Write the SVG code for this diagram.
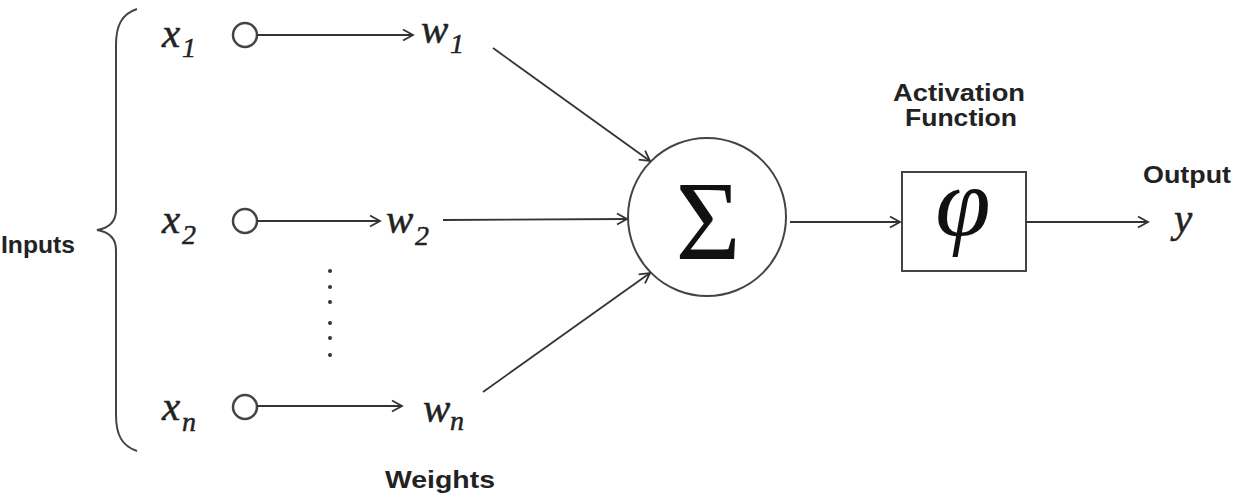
<svg xmlns="http://www.w3.org/2000/svg" width="1236" height="498" viewBox="0 0 1236 498">
<defs>
<marker id="arr" markerWidth="14" markerHeight="14" refX="11" refY="7" orient="auto" markerUnits="userSpaceOnUse">
<path d="M1,1.5 L11,7 L1,12.5" fill="none" stroke="#333" stroke-width="1.8"/>
</marker>
<style>
.lbl{font-family:"Liberation Sans",Arial,sans-serif;font-weight:bold;font-size:24px;fill:#222}
.var{font-family:"Liberation Serif","Times New Roman",serif;font-style:italic;font-size:41px;fill:#222;stroke:#222;stroke-width:0.5}
.sub{font-family:"Liberation Serif","Times New Roman",serif;font-style:italic;font-size:28px;fill:#222;stroke:#222;stroke-width:0.5}
.conn{stroke:#333;stroke-width:1.8;fill:none;marker-end:url(#arr)}
.node{fill:#fff;stroke:#444;stroke-width:2.5}
</style>
</defs>
<rect width="1236" height="498" fill="#fff"/>
<g id="brace">
<path d="M137,9 C122,14 116,25 116,45 L116,210 C116,222 109,228 97,230 C109,232 116,238 116,250 L116,415 C116,435 122,446 137,451" fill="none" stroke="#444" stroke-width="2"/>
<text class="lbl" x="1" y="253" textLength="74" lengthAdjust="spacingAndGlyphs">Inputs</text>
</g>
<g id="x1">
<text class="var" x="162" y="47">x</text><text class="sub" x="182" y="57">1</text>
<circle class="node" cx="245" cy="35" r="12"/>
</g>
<g id="x2">
<text class="var" x="162" y="233">x</text><text class="sub" x="182" y="244">2</text>
<circle class="node" cx="245" cy="221" r="12"/>
</g>
<g id="dots" fill="#333">
<circle cx="330" cy="271" r="2"/><circle cx="330" cy="287" r="2"/><circle cx="330" cy="302" r="2"/>
<circle cx="330" cy="323" r="2"/><circle cx="330" cy="338" r="2"/><circle cx="330" cy="355" r="2"/>
</g>
<g id="xn">
<text class="var" x="162" y="420">x</text><text class="sub" x="182" y="431">n</text>
<circle class="node" cx="245" cy="407" r="12"/>
</g>
<g id="w1">
<text class="var" x="421" y="43">w</text><text class="sub" x="450" y="53">1</text>
</g>
<g id="w2">
<text class="var" x="386" y="233">w</text><text class="sub" x="415" y="245">2</text>
</g>
<g id="wn">
<text class="var" x="423" y="422">w</text><text class="sub" x="450" y="430">n</text>
</g>
<g id="weights-label">
<text class="lbl" x="385" y="488" textLength="110" lengthAdjust="spacingAndGlyphs">Weights</text>
</g>
<g id="sum">
<circle cx="707" cy="217" r="79" fill="#fff" stroke="#444" stroke-width="2"/>
<text x="708" y="259" text-anchor="middle" font-family="'Liberation Serif','Times New Roman',serif" font-size="112" fill="#111">Σ</text>
</g>
<g id="activation">
<text class="lbl" x="893" y="101" textLength="132" lengthAdjust="spacingAndGlyphs">Activation</text>
<text class="lbl" x="905" y="126" textLength="112" lengthAdjust="spacingAndGlyphs">Function</text>
<rect x="902" y="172" width="124" height="99" fill="#fff" stroke="#444" stroke-width="2"/>
<text x="963" y="236" text-anchor="middle" font-family="'Liberation Serif','Times New Roman',serif" font-style="italic" font-size="100" fill="#111">φ</text>
</g>
<g id="output">
<text class="lbl" x="1143" y="183" textLength="88" lengthAdjust="spacingAndGlyphs">Output</text>
<text class="var" x="1174" y="232">y</text>
</g>
<g id="connectors">
<line class="conn" x1="257" y1="35" x2="413" y2="35"/>
<line class="conn" x1="257" y1="221" x2="380" y2="221"/>
<line class="conn" x1="257" y1="406" x2="402" y2="406"/>
<line class="conn" x1="493" y1="48" x2="650" y2="161"/>
<line class="conn" x1="443" y1="220" x2="627" y2="219"/>
<line class="conn" x1="483" y1="392" x2="650" y2="273"/>
<line class="conn" x1="790" y1="222" x2="900" y2="222"/>
<line class="conn" x1="1026" y1="222" x2="1148" y2="222"/>
</g>
</svg>
